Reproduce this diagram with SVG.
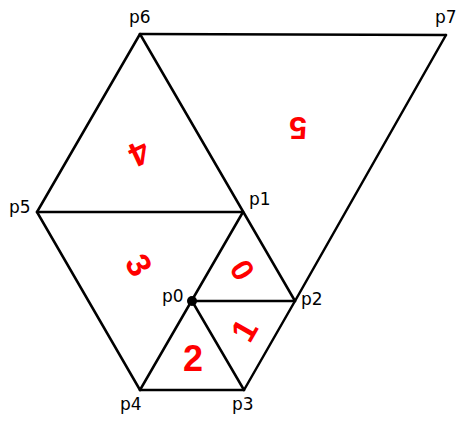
<svg xmlns="http://www.w3.org/2000/svg" width="469" height="426" viewBox="0 0 469 426">
<style>
.e{stroke:#000;stroke-width:2.5;fill:none;stroke-linecap:round}
.pl{font-family:"DejaVu Sans",sans-serif;font-size:17px;fill:#000}
.n{font-family:"Liberation Sans",Arial,sans-serif;font-weight:bold;fill:#ff0000;text-anchor:middle}
</style>
<rect width="469" height="426" fill="#fff"/>
<g id="connectors">
<line class="e" x1="140" y1="34" x2="446" y2="35"/>
<line class="e" x1="446" y1="35" x2="295" y2="301"/>
<line class="e" x1="140" y1="34" x2="37" y2="212"/>
<line class="e" x1="140" y1="34" x2="295" y2="301"/>
<line class="e" x1="37" y1="212" x2="243" y2="212"/>
<line class="e" x1="37" y1="212" x2="140" y2="390"/>
<line class="e" x1="140" y1="390" x2="244" y2="390"/>
<line class="e" x1="244" y1="390" x2="295" y2="301"/>
<line class="e" x1="243" y1="212" x2="140" y2="390"/>
<line class="e" x1="192" y1="301" x2="295" y2="301"/>
<line class="e" x1="192" y1="301" x2="244" y2="390"/>
</g>
<g id="p0"><circle cx="192" cy="301" r="5" fill="#000"/><text class="pl" x="162" y="302">p0</text></g>
<g id="p1"><text class="pl" x="249" y="205">p1</text></g>
<g id="p2"><text class="pl" x="301" y="305">p2</text></g>
<g id="p3"><text class="pl" x="232" y="410">p3</text></g>
<g id="p4"><text class="pl" x="120" y="410">p4</text></g>
<g id="p5"><text class="pl" x="9" y="213">p5</text></g>
<g id="p6"><text class="pl" x="129" y="23">p6</text></g>
<g id="p7"><text class="pl" x="435" y="23">p7</text></g>
<g id="t0"><text class="n" font-size="31" transform="translate(242.5,270) rotate(60)" y="11">0</text></g>
<g id="t1"><text class="n" font-size="34" transform="translate(244,330) rotate(-60)" y="12">1</text></g>
<g id="t2"><text class="n" font-size="36" transform="translate(193,358)" y="13">2</text></g>
<g id="t3"><text class="n" font-size="34" transform="translate(139,265) rotate(60)" y="12">3</text></g>
<g id="t4"><text class="n" font-size="34" transform="translate(139.5,153.5) rotate(155)" y="12">4</text></g>
<g id="t5"><text class="n" font-size="32" transform="translate(298,128) rotate(180)" y="11.5">5</text></g>
</svg>
